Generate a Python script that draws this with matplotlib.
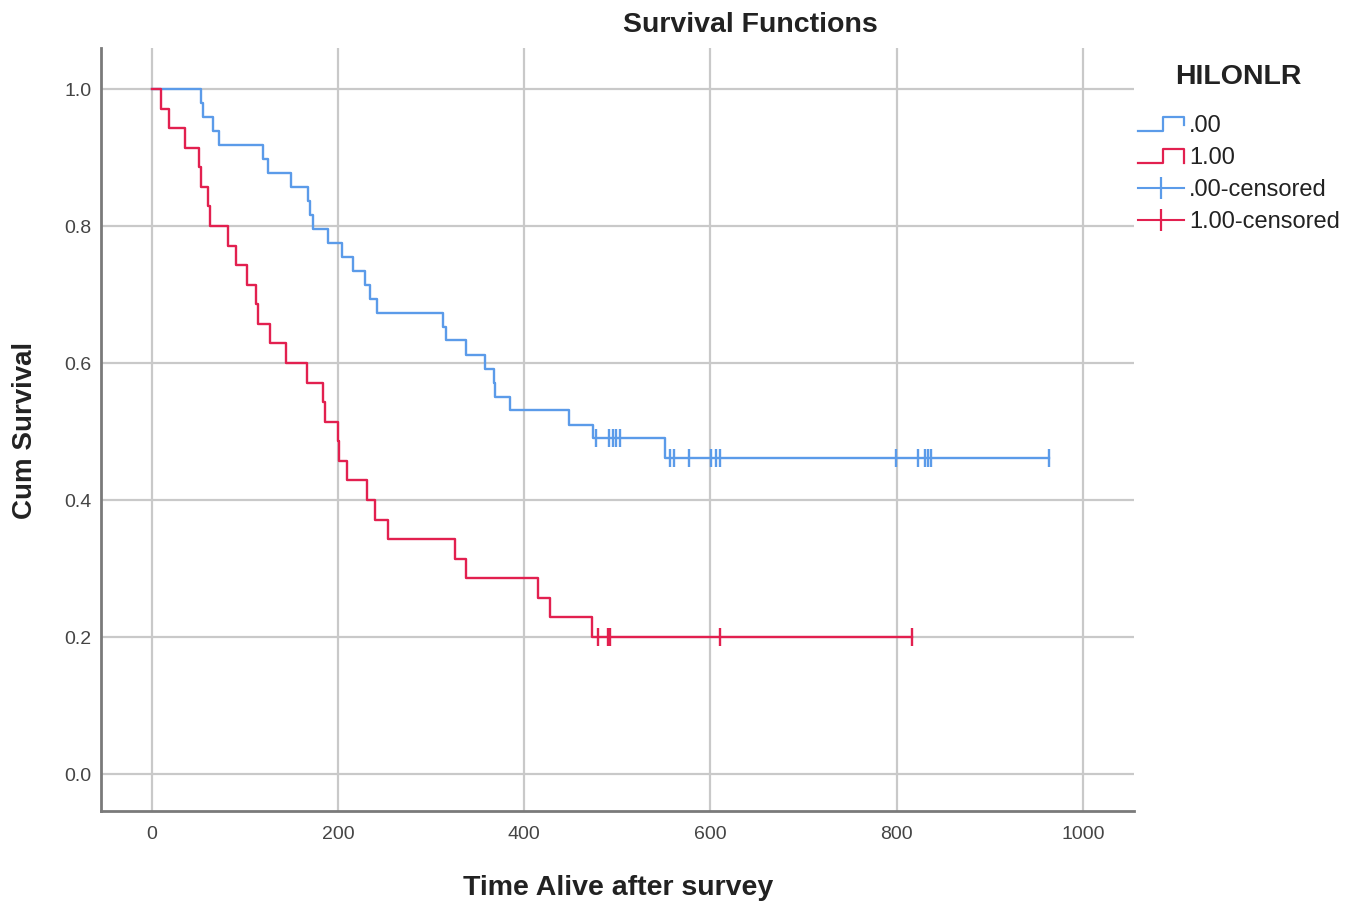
"""Kaplan-Meier survival curves by HILONLR group, SPSS-style look."""
import matplotlib
matplotlib.use("Agg")
import matplotlib.pyplot as plt  # noqa: E402
from matplotlib.legend_handler import HandlerBase  # noqa: E402
from matplotlib.lines import Line2D  # noqa: E402

plt.rcParams["font.family"] = ["Liberation Sans", "DejaVu Sans"]

BLUE, RED = "#5b9be9", "#e2204f"
GRID, SPINE, TXT = "#c9c9c9", "#7a7a7a", "#222222"

# ---- group .00 : event times / survival after each step, censor times ----
t0 = [0, 53, 55, 66, 72, 120, 125, 149, 168, 170, 173, 189, 204, 216, 229, 234, 242,
      313, 316, 337, 358, 367, 369, 385, 448, 474, 551]
s0 = [1.0, 0.980, 0.959, 0.939, 0.918, 0.898, 0.878, 0.857, 0.837, 0.816, 0.796, 0.776,
      0.755, 0.735, 0.714, 0.694, 0.673, 0.653, 0.633, 0.612, 0.592, 0.571, 0.551, 0.531,
      0.510, 0.490, 0.461]
c0 = [477, 491, 495, 499, 503, 556, 561, 577, 601, 606, 610, 799, 823, 830, 834, 837, 963]
end0 = 963

# ---- group 1.00 ----
t1 = [0, 10, 18, 36, 51, 53, 60, 63, 82, 91, 102, 112, 114, 127, 144, 167, 184, 186,
      200, 201, 210, 231, 240, 254, 326, 337, 415, 428, 473]
s1 = [1.0, 0.971, 0.943, 0.914, 0.886, 0.857, 0.829, 0.800, 0.771, 0.743, 0.714, 0.686,
      0.657, 0.629, 0.600, 0.571, 0.543, 0.514, 0.486, 0.457, 0.429, 0.400, 0.371, 0.343,
      0.314, 0.286, 0.257, 0.229, 0.200]
c1 = [479, 490, 492, 610, 816]
end1 = 816

xticks = [0, 200, 400, 600, 800, 1000]
yticks = [0.0, 0.2, 0.4, 0.6, 0.8, 1.0]


def surv_at(t, ts, ss):
    return [ss[max(i for i, x in enumerate(ts) if x <= v)] for v in t]


class HandlerStep(HandlerBase):
    # step glyph like the SPSS legend: low run, rise, top run, drop
    def create_artists(self, legend, orig, xd, yd, w, h, fontsize, trans):
        lo, hi = -yd + 0.1 * h, -yd + 0.95 * h
        ln = Line2D([-xd, -xd + 0.55 * w, -xd + 0.55 * w, -xd + w, -xd + w],
                    [lo, lo, hi, hi, lo if orig.get_label() == "1.00" else -yd + 0.45 * h],
                    color=orig.get_color(), lw=1.6, transform=trans)
        return [ln]


fig = plt.figure(figsize=(13.59, 9.10), dpi=100)
ax = fig.add_axes([101 / 1359, 1 - 811 / 910, 1033 / 1359, 763 / 910])

for ts, ss, cs, end, col in [(t0, s0, c0, end0, BLUE), (t1, s1, c1, end1, RED)]:
    ax.step(ts + [end], ss + [ss[-1]], where="post", color=col, lw=1.7, zorder=3)
    ax.plot(cs, surv_at(cs, ts, ss), ls="none", marker="|", ms=13, mew=1.7, color=col, zorder=4)

ax.set_xlim(-54.5, 1054.8); ax.set_ylim(-0.054, 1.06)
ax.set_xticks(xticks); ax.set_yticks(yticks)
ax.set_yticklabels([f"{v:.1f}" for v in yticks])
ax.grid(True, color=GRID, lw=1.6); ax.set_axisbelow(True)
ax.tick_params(length=0, labelsize=14, colors="#444444")
ax.tick_params(axis="x", pad=11); ax.tick_params(axis="y", pad=7)
for k in ("top", "right"):
    ax.spines[k].set_visible(False)
for k in ("left", "bottom"):
    ax.spines[k].set_color(SPINE); ax.spines[k].set_linewidth(2)

fig.text(750 / 1359, 1 - 25 / 910, "Survival Functions", ha="center", va="center",
         fontsize=20.5, fontweight="bold", color=TXT)
fig.text(618 / 1359, 1 - 888 / 910, "Time Alive after survey", ha="center", va="center",
         fontsize=20.5, fontweight="bold", color=TXT)
fig.text(25 / 1359, 1 - 430 / 910, "Cum Survival", ha="center", va="center", rotation=90,
         fontsize=20, fontweight="bold", color=TXT)
fig.text(1238 / 1359, 1 - 77 / 910, "HILONLR", ha="center", va="center",
         fontsize=20.5, fontweight="bold", color=TXT)

hs = [Line2D([], [], color=BLUE, label=".00"), Line2D([], [], color=RED, label="1.00"),
      Line2D([], [], color=BLUE, lw=1.5, marker="|", ms=16, mew=1.6, label=".00-censored"),
      Line2D([], [], color=RED, lw=1.5, marker="|", ms=16, mew=1.6, label="1.00-censored")]
leg = fig.legend(handles=hs, loc="upper left", bbox_to_anchor=(1138 / 1359, 1 - 115.5 / 910),
                 frameon=False, fontsize=17, borderpad=0, borderaxespad=0,
                 handlelength=1.95, handletextpad=0.22, labelspacing=0.42, numpoints=1,
                 handler_map={hs[0]: HandlerStep(), hs[1]: HandlerStep()})
for t in leg.get_texts():
    t.set_color(TXT)

fig.savefig("out.png", dpi=100)
